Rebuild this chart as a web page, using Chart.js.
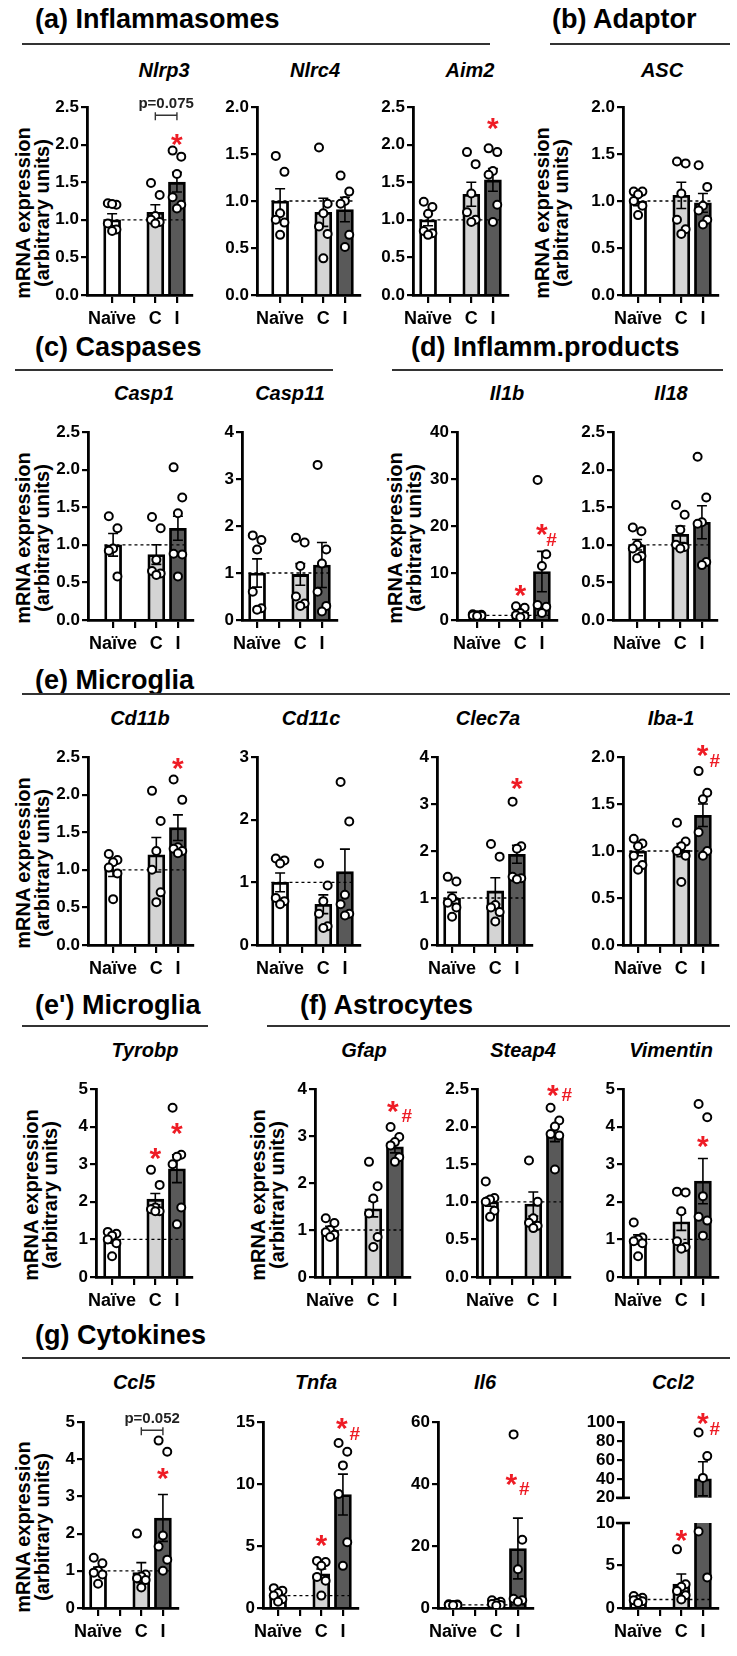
<!DOCTYPE html>
<html>
<head>
<meta charset="utf-8">
<script src="https://cdn.jsdelivr.net/npm/chart.js@4.4.1/dist/chart.umd.min.js"></script>
<style>
body { margin: 0; background: #fff; }
#fig { position: relative; width: 737px; height: 1656px; overflow: hidden; background: #fff;
       font-family: "Liberation Sans", Arial, sans-serif; color: #000; }
.hdr { position: absolute; font-weight: bold; font-size: 27px; line-height: 1; white-space: nowrap; transform: translateY(-50%); }
.rule { position: absolute; height: 0; border-top: 2px solid #333; }
.gene { position: absolute; font-weight: bold; font-style: italic; font-size: 20px; line-height: 1; white-space: nowrap; transform: translate(-50%, -50%); }
.ytitle { position: absolute; font-weight: bold; font-size: 20px; line-height: 19px; text-align: center; white-space: nowrap;
          transform: translate(-50%, -50%) rotate(-90deg); }
canvas { position: absolute; }
</style>
</head>
<body>
<div id="fig">
  <div class="hdr" style="left:35px;top:19px">(a) Inflammasomes</div>
  <div class="rule" style="left:22px;width:468px;top:43px"></div>
  <div class="hdr" style="left:552px;top:19px">(b) Adaptor</div>
  <div class="rule" style="left:550px;width:180px;top:43px"></div>
  <div class="hdr" style="left:35px;top:347px">(c) Caspases</div>
  <div class="rule" style="left:15px;width:318px;top:369px"></div>
  <div class="hdr" style="left:411px;top:347px">(d) Inflamm.products</div>
  <div class="rule" style="left:392px;width:331px;top:369px"></div>
  <div class="hdr" style="left:35px;top:680px">(e) Microglia</div>
  <div class="rule" style="left:22px;width:708px;top:693px"></div>
  <div class="hdr" style="left:35px;top:1005px">(e') Microglia</div>
  <div class="rule" style="left:22px;width:186px;top:1025px"></div>
  <div class="hdr" style="left:300px;top:1005px">(f) Astrocytes</div>
  <div class="rule" style="left:267px;width:463px;top:1025px"></div>
  <div class="hdr" style="left:35px;top:1335px">(g) Cytokines</div>
  <div class="rule" style="left:22px;width:708px;top:1357px"></div>
</div>
<script>
// ---- data ----
const groupLabels = ['Naïve', '', 'C', 'I'];
const genes = ['Nlrp3', 'Nlrc4', 'Aim2', 'ASC',
               'Casp1', 'Casp11', 'Il1b', 'Il18',
               'Cd11b', 'Cd11c', 'Clec7a', 'Iba-1',
               'Tyrobp', 'Gfap', 'Steap4', 'Vimentin',
               'Ccl5', 'Tnfa', 'Il6', 'Ccl2'];
const yMaxes = [2.5, 2.0, 2.5, 2.0,  2.5, 4, 40, 2.5,  2.5, 3, 4, 2.0,  5, 4, 2.5, 5,  5, 15, 60, 10];
const ySteps = [0.5, 0.5, 0.5, 0.5,  0.5, 1, 10, 0.5,  0.5, 1, 1, 0.5,  1, 1, 0.5, 1,  1, 5, 20, 5];
const ccl2UpperTicks = [20, 40, 60, 80, 100];

// means for Naïve, C, I
const barMeans = [
  [1.0, 1.1, 1.5], [1.0, 0.88, 0.91], [1.0, 1.34, 1.53], [1.0, 1.06, 0.98],
  [1.0, 0.87, 1.22], [1.0, 0.97, 1.17], [1.0, 1.7, 10.3], [1.0, 1.14, 1.3],
  [1.0, 1.2, 1.56], [1.0, 0.65, 1.17], [1.0, 1.15, 1.93], [1.0, 1.01, 1.38],
  [1.0, 2.07, 2.88], [1.0, 1.45, 2.77], [1.0, 0.97, 1.9], [1.0, 1.47, 2.55],
  [1.0, 0.95, 2.42], [1.0, 2.75, 9.15], [1.0, 1.5, 19.2], [1.0, 2.8, 40]
];
const barSems = [
  [0.08, 0.1, 0.13], [0.13, 0.15, 0.13], [0.08, 0.16, 0.15], [0.05, 0.14, 0.1],
  [0.15, 0.13, 0.16], [0.3, 0.23, 0.48], [0.15, 0.6, 4.3], [0.07, 0.11, 0.22],
  [0.09, 0.23, 0.17], [0.15, 0.15, 0.36], [0.12, 0.28, 0.19], [0.05, 0.07, 0.12],
  [0.1, 0.15, 0.37], [0.08, 0.17, 0.13], [0.06, 0.16, 0.1], [0.12, 0.23, 0.6],
  [0.1, 0.27, 0.63], [0.2, 0.4, 1.65], [0.1, 0.3, 9.8], [0.15, 1.2, 18]
];
const naiveDots = [
  [1.22, 1.2, 1.21, 0.95, 0.87, 0.85], [1.48, 1.31, 0.87, 0.8, 0.77, 0.64],
  [1.24, 1.17, 1.08, 0.85, 0.82, 0.8], [1.1, 1.1, 1.07, 1.0, 0.95, 0.85],
  [1.38, 1.22, 0.95, 0.92, 0.58], [1.8, 1.7, 1.5, 0.6, 0.25, 0.22],
  [1.2, 1.1, 1.0, 0.95, 0.9, 0.85], [1.23, 1.18, 1.0, 0.95, 0.85, 0.82],
  [1.21, 1.13, 1.1, 1.03, 0.95, 0.61], [1.38, 1.35, 1.3, 0.75, 0.7, 0.65],
  [1.45, 1.35, 1.0, 0.9, 0.8, 0.6], [1.13, 1.08, 1.05, 0.95, 0.85, 0.8],
  [1.2, 1.15, 1.1, 1.0, 0.9, 0.55], [1.25, 1.15, 1.0, 0.95, 0.9, 0.85],
  [1.27, 1.05, 1.03, 1.0, 0.88, 0.8], [1.45, 1.05, 1.0, 0.95, 0.9, 0.55],
  [1.35, 1.2, 1.0, 0.95, 0.9, 0.65], [1.6, 1.4, 1.2, 1.0, 0.7, 0.5],
  [1.2, 1.1, 1.0, 0.95, 0.9, 0.85], [1.4, 1.2, 1.0, 0.9, 0.8, 0.6]
];
const ctrlDots = [
  [1.49, 1.33, 1.05, 1.0, 0.97, 0.95], [1.57, 0.97, 0.87, 0.73, 0.65, 0.39],
  [1.9, 1.74, 1.35, 1.1, 1.0, 0.97], [1.42, 1.4, 1.08, 0.8, 0.7, 0.65],
  [1.37, 1.22, 0.8, 0.65, 0.62, 0.6], [1.75, 1.65, 1.15, 0.5, 0.35, 0.3],
  [2.9, 2.6, 1.5, 1.0, 0.8, 0.6], [1.53, 1.4, 1.2, 1.0, 0.97, 0.95],
  [2.05, 1.65, 1.25, 1.0, 0.7, 0.57], [1.3, 0.95, 0.7, 0.5, 0.3, 0.27],
  [2.15, 1.88, 0.85, 0.8, 0.7, 0.5], [1.3, 1.1, 1.05, 1.0, 0.95, 0.67],
  [2.85, 2.45, 1.85, 1.8, 1.75, 1.75], [2.45, 1.93, 1.67, 1.35, 0.85, 0.64],
  [1.55, 1.0, 0.78, 0.72, 0.68, 0.65], [2.27, 2.25, 1.75, 0.95, 0.8, 0.75],
  [2.0, 0.9, 0.85, 0.8, 0.75, 0.55], [3.8, 3.7, 3.4, 2.5, 2.2, 1.0],
  [2.5, 2.0, 1.6, 1.3, 1.0, 0.8], [6.9, 2.8, 2.5, 2.0, 1.5, 1.0]
];
const inflDots = [
  [1.92, 1.84, 1.61, 1.3, 1.2, 1.15], [1.27, 1.1, 1.0, 0.97, 0.64, 0.51],
  [1.95, 1.9, 1.65, 1.6, 1.2, 0.97], [1.38, 1.15, 0.95, 0.9, 0.8, 0.75],
  [2.03, 1.63, 1.42, 0.88, 0.87, 0.58], [3.3, 1.5, 1.2, 0.6, 0.3, 0.18],
  [29.8, 14, 11.5, 3.2, 2.8, 1.5], [2.17, 1.63, 1.3, 1.28, 0.77, 0.73],
  [2.2, 1.93, 1.3, 1.28, 1.25, 1.22], [2.6, 1.97, 0.8, 0.65, 0.5, 0.47],
  [3.05, 2.1, 2.05, 1.45, 1.42, 1.4], [1.85, 1.62, 1.55, 1.2, 1.0, 0.95],
  [4.5, 3.25, 3.2, 3.0, 1.85, 1.4], [3.19, 2.98, 2.87, 2.8, 2.55, 2.45],
  [2.25, 2.08, 2.0, 1.9, 1.88, 1.43], [4.6, 4.25, 2.15, 1.6, 1.5, 1.1],
  [4.5, 4.2, 1.95, 1.65, 1.3, 1.0], [13.3, 12.6, 11.5, 9.2, 5.3, 3.4],
  [56, 22, 12.5, 3.0, 2.5, 2.0], [89, 64, 41, 9, 3.6]
];
// significance symbols: gene, symbol, group position, value
const sigMarks = [
  ['Nlrp3', '*', 4, 2.09], ['Aim2', '*', 4, 2.3],
  ['Il1b', '*', 3, 6.6], ['Il1b', '*', 4, 19.6], ['Il1b', '#', 4.45, 17.2],
  ['Cd11b', '*', 4, 2.43], ['Clec7a', '*', 4, 3.47],
  ['Iba-1', '*', 3.98, 2.08], ['Iba-1', '#', 4.55, 1.97],
  ['Tyrobp', '*', 3, 3.32], ['Tyrobp', '*', 4, 3.99],
  ['Gfap', '*', 3.9, 3.66], ['Gfap', '#', 4.55, 3.45],
  ['Steap4', '*', 3.9, 2.5], ['Steap4', '#', 4.55, 2.44],
  ['Vimentin', '*', 4, 3.64], ['Ccl5', '*', 4, 3.66],
  ['Tnfa', '*', 3, 5.56], ['Tnfa', '*', 3.95, 15.0], ['Tnfa', '#', 4.55, 14.1],
  ['Il6', '*', 3.7, 42], ['Il6', '#', 4.3, 38.7],
  ['Ccl2', '*', 3, 8.7], ['Ccl2', '*', 4, 105], ['Ccl2', '#', 4.55, 94]
];
// p-value brackets between C and I: gene, label, value
const pBrackets = [['Nlrp3', 'p=0.075', 2.39], ['Ccl5', 'p=0.052', 4.78]];

// ---- layout ----
const rowY = [[107, 295], [432, 620], [757, 945], [1089, 1277], [1422, 1608]];
// row, y-axis x, Naïve tick x
const panelPos = [
  [0, 87, 112], [0, 257, 280], [0, 413, 428], [0, 623, 638],
  [1, 88, 113], [1, 242, 257], [1, 457, 477], [1, 613, 637],
  [2, 88, 113], [2, 257, 280], [2, 437, 452], [2, 623, 638],
  [3, 96, 112], [3, 315, 330], [3, 477, 490], [3, 623, 638],
  [4, 83, 98], [4, 263, 278], [4, 438, 453], [4, 623, 638]
];
const geneTitlePos = [
  [164, 70], [315, 70], [470, 70], [662, 70],
  [144, 393], [290, 393], [507, 393], [671, 393],
  [140, 718], [311, 718], [488, 718], [671, 718],
  [145, 1050], [364, 1050], [523, 1050], [671, 1050],
  [134, 1382], [316, 1382], [485, 1382], [673, 1382]
];
const yTitles = [[33, 213], [552, 213], [33, 538], [405, 538], [33, 863], [41, 1195], [268, 1195], [33, 1527]];

const FONT = '"Liberation Sans", Arial, sans-serif';
const SP = 21.5;
const fig = document.getElementById('fig');

genes.forEach((g, i) => {
  const d = document.createElement('div');
  d.className = 'gene';
  d.textContent = g;
  d.style.left = geneTitlePos[i][0] + 'px';
  d.style.top = geneTitlePos[i][1] + 'px';
  fig.appendChild(d);
});
yTitles.forEach(p => {
  const d = document.createElement('div');
  d.className = 'ytitle';
  d.innerHTML = 'mRNA expression<br>(arbitrary units)';
  d.style.left = p[0] + 'px';
  d.style.top = p[1] + 'px';
  fig.appendChild(d);
});

const marksPlugin = {
  id: 'marks',
  afterDatasetDraw(chart, args, o) {
    if (args.meta.type !== 'bar') return;
    const { ctx, chartArea: a } = chart;
    const x = chart.scales.x, y = chart.scales.y;
    ctx.save();
    ctx.beginPath();
    ctx.rect(a.left, a.top, a.right - a.left, a.bottom - a.top);
    ctx.clip();
    ctx.strokeStyle = '#000';
    ctx.lineWidth = 1.6;
    o.err.forEach(e => {
      const px = x.getPixelForValue(e.x);
      const lo = y.getPixelForValue(e.mean - e.sem), hi = y.getPixelForValue(e.mean + e.sem);
      ctx.beginPath();
      ctx.moveTo(px, lo); ctx.lineTo(px, hi);
      ctx.moveTo(px - 5, hi); ctx.lineTo(px + 5, hi);
      ctx.moveTo(px - 5, lo); ctx.lineTo(px + 5, lo);
      ctx.stroke();
    });
    ctx.restore();
  },
  afterDraw(chart, args, o) {
    const { ctx, chartArea: a } = chart;
    const x = chart.scales.x, y = chart.scales.y;
    ctx.save();
    o.sig.forEach(m => {
      const px = x.getPixelForValue(m[2]), py = y.getPixelForValue(m[3]);
      ctx.fillStyle = '#ee1c25';
      ctx.textAlign = 'center';
      ctx.textBaseline = 'alphabetic';
      if (m[1] === '*') {
        ctx.font = 'bold 30px ' + FONT;
        ctx.fillText('*', px, py + 16);
      } else {
        ctx.font = 'bold 19px ' + FONT;
        ctx.fillText('#', px, py + 7);
      }
    });
    o.brackets.forEach(b => {
      const x1 = x.getPixelForValue(3), x2 = x.getPixelForValue(4), py = y.getPixelForValue(b[2]);
      ctx.strokeStyle = '#333';
      ctx.lineWidth = 1.4;
      ctx.beginPath();
      ctx.moveTo(x1, py + 5); ctx.lineTo(x1, py - 3);
      ctx.moveTo(x1, py); ctx.lineTo(x2, py);
      ctx.moveTo(x2, py + 5); ctx.lineTo(x2, py - 3);
      ctx.stroke();
      ctx.fillStyle = '#222';
      ctx.font = 'bold 15px ' + FONT;
      ctx.textAlign = 'center';
      ctx.textBaseline = 'bottom';
      ctx.fillText(b[1], (x1 + x2) / 2, py - 4);
    });
    if (o.brk) {
      const py = o.brk === 'top' ? a.top : a.bottom;
      ctx.strokeStyle = '#000';
      ctx.lineWidth = 2.5;
      ctx.beginPath();
      ctx.moveTo(a.left - 7, py); ctx.lineTo(a.left + 7, py);
      ctx.stroke();
    }
    ctx.restore();
  }
};

function makeChart(gi, top, bottom, yTicks, showX, brk) {
  const [, ax, t1] = panelPos[gi];
  const YW = 60, PT = 50, PR = 6;
  const XH = showX ? 38 : 0, PB = showX ? 0 : 6;
  const xMin = 1 - (t1 - ax) / SP, xMax = 4 + 15 / SP;
  const W = Math.round(YW + (xMax - xMin) * SP + PR);
  const H = Math.round(PT + (bottom - top) + XH + PB);
  const cv = document.createElement('canvas');
  cv.width = W; cv.height = H;
  cv.style.left = (ax - YW) + 'px';
  cv.style.top = Math.round(top - PT) + 'px';
  cv.style.width = W + 'px'; cv.style.height = H + 'px';
  fig.appendChild(cv);

  const yMin = yTicks[0], yMax = yTicks[yTicks.length - 1];
  const step = ySteps[gi];
  const groupPos = [1, 3, 4];
  const jitter = [-0.2, 0.2, 0, -0.2, 0.2, 0];
  const dots = [];
  [naiveDots[gi], ctrlDots[gi], inflDots[gi]].forEach((vals, k) => {
    vals.forEach((v, j) => dots.push({ x: groupPos[k] + jitter[j % 6], y: v }));
  });
  const gene = genes[gi];
  const sig = sigMarks.filter(m => m[0] === gene && m[3] >= yMin && (m[3] <= yMax || yMin > 0 || gene !== 'Ccl2'));
  const brackets = pBrackets.filter(b => b[0] === gene);
  const tickFont = { family: FONT, size: 17, weight: 'bold' };

  new Chart(cv, {
    type: 'scatter',
    data: {
      datasets: [
        { type: 'scatter', data: dots, pointRadius: 4, pointBorderWidth: 2,
          pointBackgroundColor: '#fff', pointBorderColor: '#000', order: 0 },
        { type: 'line', data: [{ x: 0.6, y: 1 }, { x: 4.4, y: 1 }], borderColor: '#000',
          borderWidth: 1.3, borderDash: [3, 3], pointRadius: 0, order: 1 },
        { type: 'bar', data: groupPos.map((x, k) => ({ x, y: barMeans[gi][k] })),
          backgroundColor: ['#ffffff', '#d4d4d4', '#595959'], borderColor: '#000',
          borderWidth: 2.8, barThickness: 17, borderSkipped: 'start', order: 2 }
      ]
    },
    options: {
      responsive: false, animation: false, devicePixelRatio: 1,
      layout: { padding: { left: 0, right: PR, top: PT, bottom: PB } },
      plugins: {
        legend: { display: false }, tooltip: { enabled: false },
        marks: {
          err: groupPos.map((x, k) => ({ x, mean: barMeans[gi][k], sem: barSems[gi][k] })),
          sig, brackets, brk
        }
      },
      scales: {
        x: {
          type: 'linear', min: xMin, max: xMax, offset: false, display: showX,
          afterBuildTicks: s => { s.ticks = [1, 2, 3, 4].map(v => ({ value: v })); },
          afterFit: s => { s.height = XH; },
          grid: { display: true, offset: false, drawOnChartArea: false, drawTicks: true, tickLength: 8, color: '#000', lineWidth: 2.2 },
          border: { display: true, color: '#000', width: 2.8 },
          ticks: { font: { family: FONT, size: 18, weight: 'bold' }, color: '#000', padding: 5,
                   maxRotation: 0, autoSkip: false, callback: v => groupLabels[v - 1] ?? '' }
        },
        y: {
          type: 'linear', min: yMin, max: yMax,
          afterBuildTicks: s => { s.ticks = yTicks.map(v => ({ value: v })); },
          afterFit: s => { s.width = YW; },
          grid: { display: true, drawOnChartArea: false, drawTicks: true, tickLength: 6, color: '#000', lineWidth: 2.2 },
          border: { display: true, color: '#000', width: 2.8 },
          ticks: { font: tickFont, color: '#000', padding: 2, autoSkip: false,
                   callback: v => step < 1 ? v.toFixed(1) : String(v) }
        }
      }
    },
    plugins: [marksPlugin]
  });
}

genes.forEach((g, gi) => {
  const [top, bottom] = rowY[panelPos[gi][0]];
  if (g === 'Ccl2') {
    makeChart(gi, top, 1504, ccl2UpperTicks, false, 'bottom');
    makeChart(gi, 1522.7, bottom, [0, 5, 10], true, 'top');
    return;
  }
  const ticks = [];
  for (let v = 0; v <= yMaxes[gi] + 1e-9; v += ySteps[gi]) ticks.push(Math.round(v * 10) / 10);
  makeChart(gi, top, bottom, ticks, true, null);
});
</script>
</body>
</html>
